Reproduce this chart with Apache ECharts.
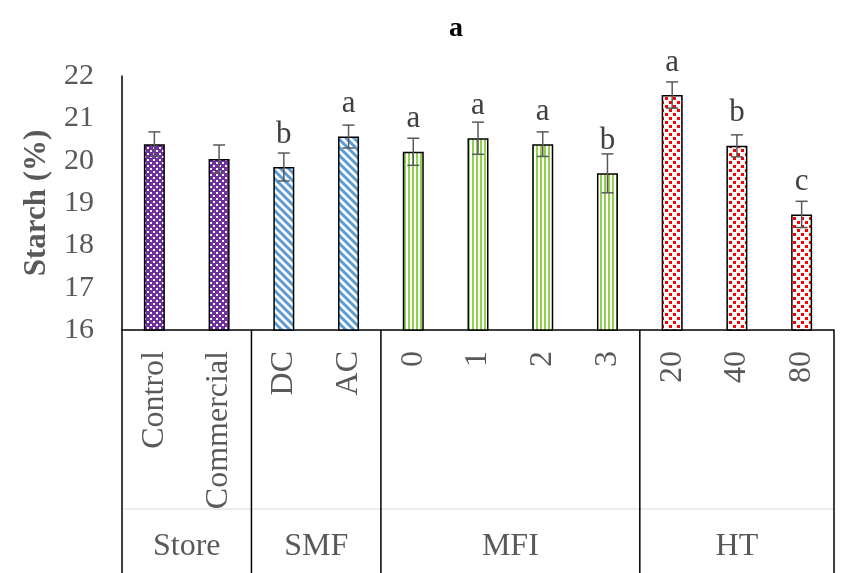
<!DOCTYPE html>
<html>
<head>
<meta charset="utf-8">
<script src="https://cdn.jsdelivr.net/npm/echarts@6/dist/echarts.min.js"></script>
<style>
html,body{margin:0;padding:0;background:#fff;}
#chart{width:845px;height:573px;}
</style>
</head>
<body>
<div id="chart"></div>
<script>
var categories = ['Control','Commercial','DC','AC','0','1','2','3','20','40','80'];
var values     = [20.39, 20.04, 19.85, 20.57, 20.21, 20.53, 20.39, 19.70, 21.55, 20.35, 18.73];
var errors     = [0.29, 0.33, 0.33, 0.27, 0.32, 0.38, 0.29, 0.46, 0.31, 0.26, 0.31];
var letters    = ['', '', 'b', 'a', 'a', 'a', 'a', 'b', 'a', 'b', 'c'];
var groupNames = ['Store','SMF','MFI','HT'];
var groupSizes = [2, 2, 4, 3];
var yTicks     = [16, 17, 18, 19, 20, 21, 22];

var FONT = '"Liberation Serif", "Times New Roman", serif';
var GRAY = '#595959';

function makePattern(kind){
  var c = document.createElement('canvas');
  var ctx = c.getContext('2d');
  if(kind === 'check'){
    c.width = 6; c.height = 6;
    ctx.fillStyle = '#7030A0'; ctx.fillRect(0,0,6,6);
    ctx.fillStyle = '#ffffff'; ctx.fillRect(0,0,2,2); ctx.fillRect(3,3,2,2);
  } else if(kind === 'diag'){
    c.width = 8; c.height = 8;
    ctx.fillStyle = '#ffffff'; ctx.fillRect(0,0,8,8);
    ctx.strokeStyle = '#5B9BD5'; ctx.lineWidth = 3;
    ctx.beginPath();
    ctx.moveTo(-2,-2); ctx.lineTo(10,10);
    ctx.moveTo(-10,-2); ctx.lineTo(2,10);
    ctx.moveTo(6,-2); ctx.lineTo(18,10);
    ctx.stroke();
  } else if(kind === 'vert'){
    c.width = 4; c.height = 4;
    ctx.fillStyle = '#ffffff'; ctx.fillRect(0,0,4,4);
    ctx.fillStyle = '#92D050'; ctx.fillRect(0,0,2,4);
  } else {
    c.width = 8; c.height = 8;
    ctx.fillStyle = '#ffffff'; ctx.fillRect(0,0,8,8);
    ctx.fillStyle = '#FF0000'; ctx.fillRect(1,1,3,3); ctx.fillRect(5,5,3,3);
  }
  return {image: c, repeat: 'repeat'};
}
var groupPatterns = [makePattern('check'), makePattern('diag'), makePattern('vert'), makePattern('dots')];

var barData = [];
var idx = 0;
for(var g=0; g<groupSizes.length; g++){
  for(var k=0; k<groupSizes[g]; k++){
    barData.push({value: values[idx], itemStyle:{color: groupPatterns[g]}});
    idx++;
  }
}
var errData = values.map(function(v,i){ return [i, v, errors[i]]; });

var chart = echarts.init(document.getElementById('chart'), null, {renderer:'canvas'});
var option = {
  animation: false,
  backgroundColor: '#fff',
  title: {
    text: 'a', left: 444, top: 10,
    textStyle: {fontFamily: FONT, fontSize: 28, fontWeight: 'bold', color: '#000'}
  },
  grid: {left: 122, right: 11, top: 76, bottom: 243, containLabel: false},
  xAxis: {
    type: 'category', data: categories,
    axisTick: {show: false},
    axisLine: {lineStyle: {color: '#000', width: 1.5}},
    axisLabel: {rotate: 90, margin: 21, fontFamily: FONT, fontSize: 32, color: GRAY, interval: 0}
  },
  yAxis: {
    type: 'value', min: yTicks[0], max: yTicks[yTicks.length-1], interval: 1,
    splitLine: {show: false},
    axisTick: {show: false},
    axisLine: {show: true, lineStyle: {color: '#000', width: 1.5}},
    axisLabel: {margin: 28, fontFamily: FONT, fontSize: 30, color: GRAY},
    name: 'Starch (%)', nameLocation: 'middle', nameRotate: 90, nameGap: 70,
    nameTextStyle: {fontFamily: FONT, fontSize: 31, fontWeight: 'bold', color: GRAY}
  },
  series: [
    {
      type: 'bar', data: barData, barWidth: 21,
      itemStyle: {borderColor: '#000', borderWidth: 1.5}
    },
    {
      type: 'custom', data: errData, z: 5,
      renderItem: function(params, api){
        var x = api.value(0), v = api.value(1), e = api.value(2);
        var top = api.coord([x, v + e]);
        var bot = api.coord([x, v - e]);
        var bar = api.coord([x, v]);
        var hw = 6;
        var children = [
          {type:'line', shape:{x1:top[0], y1:top[1], x2:bot[0], y2:bot[1]}, style:{stroke:GRAY, lineWidth:1.5}},
          {type:'line', shape:{x1:top[0]-hw, y1:top[1], x2:top[0]+hw, y2:top[1]}, style:{stroke:GRAY, lineWidth:1.5}},
          {type:'line', shape:{x1:bot[0]-hw, y1:bot[1], x2:bot[0]+hw, y2:bot[1]}, style:{stroke:GRAY, lineWidth:1.5}}
        ];
        var lt = letters[params.dataIndex];
        if(lt){
          children.push({type:'text', style:{text: lt, x: bar[0], y: bar[1]-17, textAlign:'center', textVerticalAlign:'bottom',
            font: '31px ' + FONT, fill: '#404040'}});
        }
        return {type:'group', children: children};
      }
    }
  ]
};
chart.setOption(option);

// Group separators and labels, positioned through the axis scale
var p0 = chart.convertToPixel({xAxisIndex:0}, 0);
var p1 = chart.convertToPixel({xAxisIndex:0}, 1);
var bw = p1 - p0;
var yBase = chart.convertToPixel({yAxisIndex:0}, yTicks[0]);
var H = 573;
var graphics = [];
var start = 0;
var leftEdge = p0 - bw/2;
var rightEdge = chart.convertToPixel({xAxisIndex:0}, categories.length-1) + bw/2;
graphics.push({type:'line', shape:{x1:leftEdge, y1:509, x2:rightEdge, y2:509}, style:{stroke:'#d9d9d9', lineWidth:1}, silent:true});
for(var g=0; g<groupSizes.length; g++){
  var a = chart.convertToPixel({xAxisIndex:0}, start) - bw/2;
  var b = chart.convertToPixel({xAxisIndex:0}, start + groupSizes[g] - 1) + bw/2;
  graphics.push({type:'line', shape:{x1:a, y1:yBase, x2:a, y2:H}, style:{stroke:'#000', lineWidth:1.5}, silent:true});
  if(g === groupSizes.length-1){
    graphics.push({type:'line', shape:{x1:b, y1:yBase, x2:b, y2:H}, style:{stroke:'#000', lineWidth:1.5}, silent:true});
  }
  graphics.push({type:'text', style:{text: groupNames[g], x:(a+b)/2, y:547, textAlign:'center', textVerticalAlign:'middle',
    font:'32px ' + FONT, fill: GRAY}, silent:true});
  start += groupSizes[g];
}
chart.setOption({graphic: graphics});
</script>
</body>
</html>
